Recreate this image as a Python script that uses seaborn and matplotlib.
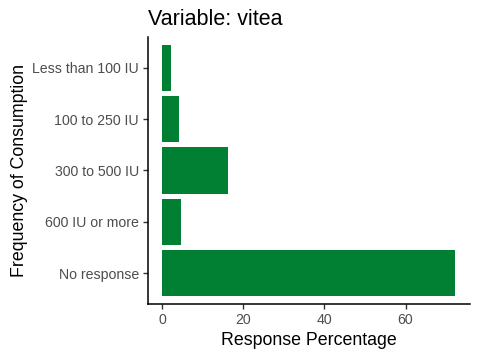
import pandas as pd
import seaborn as sns
import matplotlib.pyplot as plt

# data
categories = ["Less than 100 IU", "100 to 250 IU", "300 to 500 IU", "600 IU or more", "No response"]
percentages = [2.15, 4.1, 16.2, 4.6, 72.3]

df = pd.DataFrame({"Frequency of Consumption": categories, "Response Percentage": percentages})

sns.set_style("white")
plt.rcParams["font.family"] = ["Liberation Sans", "DejaVu Sans"]
plt.rcParams["text.color"] = "black"

fig = plt.figure(figsize=(4.8, 3.6), dpi=100)
ax = fig.add_axes([0.308, 0.156, 0.671, 0.741])

sns.barplot(data=df, x="Response Percentage", y="Frequency of Consumption",
            order=categories, color="#017F32", saturation=1, width=0.9,
            linewidth=0, ax=ax)

ax.set_xlim(-3.6, 75.9)
ax.set_ylim(4.6, -0.6)
ax.set_xticks([0, 20, 40, 60])

ax.set_xlabel("Response Percentage", fontsize=12.8, color="black", labelpad=4)
ax.set_ylabel("Frequency of Consumption", fontsize=12.8, color="black", labelpad=3)
ax.set_title("Variable: vitea", fontsize=15.5, loc="left", x=0.0, pad=9, color="black")

ax.tick_params(axis="both", labelsize=10.2, labelcolor="#4D4D4D", color="#333333",
               length=3.5, width=1, direction="out", bottom=True, left=True, pad=3)

sns.despine(ax=ax)
for side in ["left", "bottom"]:
    ax.spines[side].set_color("black")
    ax.spines[side].set_linewidth(1.1)

fig.savefig("out.png", dpi=100)
